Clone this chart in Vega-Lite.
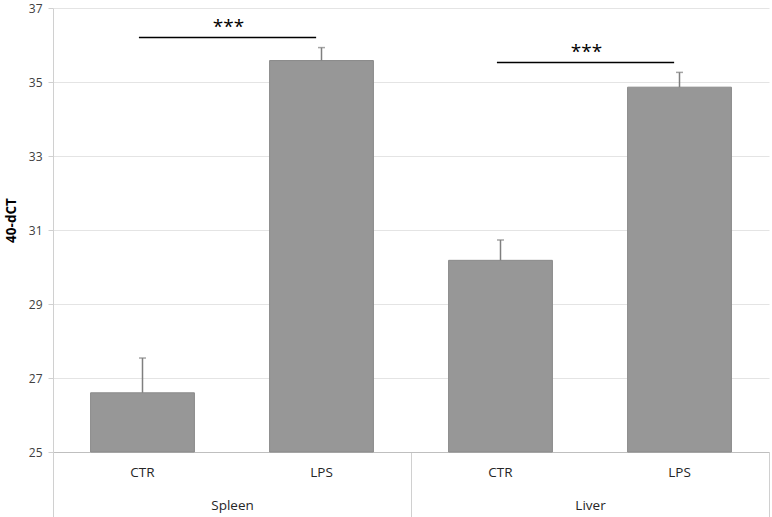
{
  "$schema": "https://vega.github.io/schema/vega-lite/v6.json",
  "width": 716,
  "height": 444,
  "autosize": {"type": "none"},
  "padding": {"left": 53, "top": 8, "right": 3, "bottom": 65},
  "background": "white",
  "config": {"view": {"stroke": null}, "font": "Open Sans"},
  "datasets": {
    "bars": [
      {"organ": "Spleen", "group": "CTR", "value": 26.6, "upper": 27.54},
      {"organ": "Spleen", "group": "LPS", "value": 35.58, "upper": 35.93},
      {"organ": "Liver", "group": "CTR", "value": 30.18, "upper": 30.73},
      {"organ": "Liver", "group": "LPS", "value": 34.86, "upper": 35.26}
    ],
    "sig": [
      {"organ": "Spleen", "line": 36.2, "stars": 36.32, "label": "***"},
      {"organ": "Liver", "line": 35.53, "stars": 35.65, "label": "***"}
    ]
  },
  "layer": [
    {
      "data": {"name": "bars"},
      "mark": {"type": "bar", "color": "#979797", "stroke": "#8a8a8a", "strokeWidth": 1},
      "encoding": {
        "x": {
          "field": "organ", "type": "nominal", "sort": ["Spleen", "Liver"],
          "scale": {"paddingInner": 0, "paddingOuter": 0},
          "axis": {
            "title": null, "labelAngle": 0, "tickBand": "extent", "tickSize": 65,
            "tickColor": "#d0d0d0", "domainColor": "#bfbfbf", "labelFontSize": 13.5,
            "labelColor": "#262626", "labelBaseline": "middle", "labelPadding": -12
          }
        },
        "xOffset": {
          "field": "group", "type": "nominal", "sort": ["CTR", "LPS"],
          "scale": {"paddingInner": 0.42, "paddingOuter": 0.21}
        },
        "y": {
          "field": "value", "type": "quantitative",
          "scale": {"domain": [25, 37], "nice": false, "zero": false},
          "axis": {
            "values": [25, 27, 29, 31, 33, 35, 37], "grid": true, "gridColor": "#e4e4e4",
            "domainColor": "#d0d0d0", "tickColor": "#d0d0d0", "tickSize": 5,
            "labelFontSize": 12, "labelColor": "#404040", "labelPadding": 6,
            "title": "40-dCT", "titleFontSize": 13.5, "titleFontWeight": "bold",
            "titleColor": "black", "titleX": -35, "titleY": 212
          }
        },
        "y2": {"datum": 25}
      }
    },
    {
      "data": {"name": "bars"},
      "mark": {"type": "rule", "color": "#7f7f7f", "strokeWidth": 1.5},
      "encoding": {
        "x": {"field": "organ", "type": "nominal", "sort": ["Spleen", "Liver"]},
        "xOffset": {"field": "group", "type": "nominal", "sort": ["CTR", "LPS"]},
        "y": {"field": "value", "type": "quantitative"},
        "y2": {"field": "upper"}
      }
    },
    {
      "data": {"name": "bars"},
      "mark": {"type": "tick", "color": "#7f7f7f", "thickness": 1.5, "size": 7, "orient": "horizontal"},
      "encoding": {
        "x": {"field": "organ", "type": "nominal", "sort": ["Spleen", "Liver"]},
        "xOffset": {"field": "group", "type": "nominal", "sort": ["CTR", "LPS"]},
        "y": {"field": "upper", "type": "quantitative"}
      }
    },
    {
      "data": {"name": "bars"},
      "mark": {"type": "text", "fontSize": 13.5, "color": "#262626", "baseline": "middle", "dy": 21},
      "encoding": {
        "x": {"field": "organ", "type": "nominal", "sort": ["Spleen", "Liver"]},
        "xOffset": {"field": "group", "type": "nominal", "sort": ["CTR", "LPS"]},
        "y": {"datum": 25},
        "text": {"field": "group"}
      }
    },
    {
      "data": {"name": "sig"},
      "mark": {"type": "rule", "color": "black", "strokeWidth": 1.5},
      "encoding": {
        "x": {"field": "organ", "type": "nominal", "sort": ["Spleen", "Liver"], "bandPosition": 0.24},
        "x2": {"field": "organ", "bandPosition": 0.735},
        "y": {"field": "line", "type": "quantitative"}
      }
    },
    {
      "data": {"name": "sig"},
      "mark": {"type": "text", "fontSize": 19, "color": "black", "baseline": "alphabetic"},
      "encoding": {
        "x": {"field": "organ", "type": "nominal", "sort": ["Spleen", "Liver"], "bandPosition": 0.49},
        "y": {"field": "stars", "type": "quantitative"},
        "text": {"field": "label"}
      }
    }
  ]
}
